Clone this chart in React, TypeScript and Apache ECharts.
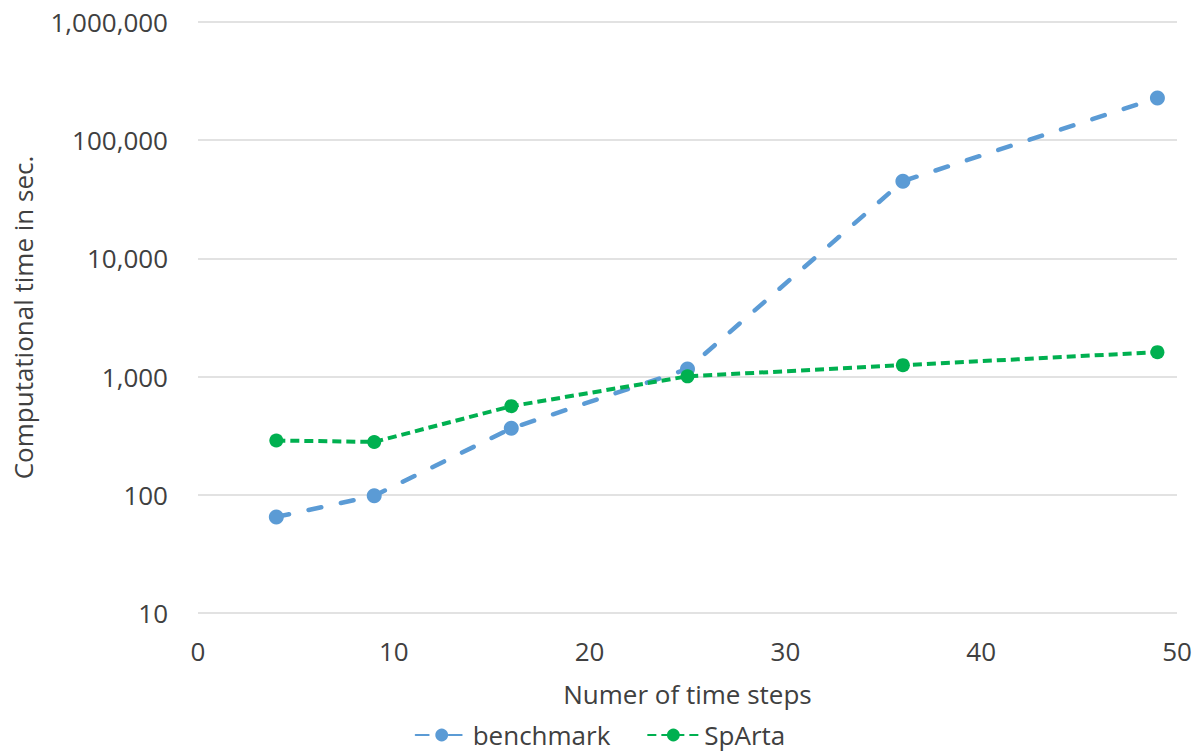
import React, { useEffect, useRef } from "react";
import * as echarts from "echarts";

const timeSteps = [4, 9, 16, 25, 36, 49];
const benchmark = [65, 98, 365, 1160, 45000, 228000];
const sparta = [288, 280, 562, 1005, 1250, 1610];
const seriesNames = ["benchmark", "SpArta"];
const xTitle = "Numer of time steps";
const yTitle = "Computational time in sec.";

const FONT = "'Open Sans', 'Liberation Sans', sans-serif";
const TXT = "#404040";
const FS = 26;

export default function App() {
  const ref = useRef<HTMLDivElement>(null);
  useEffect(() => {
    if (!ref.current) return;
    const chart = echarts.init(ref.current, undefined, { renderer: "svg" });
    chart.setOption({
      animation: false,
      textStyle: { fontFamily: FONT },
      grid: { left: 198, right: 23, top: 22, bottom: 139 },
      legend: {
        bottom: 2,
        left: "center",
        itemWidth: 52,
        itemHeight: 16,
        itemGap: 36,
        padding: 0,
        textStyle: { fontSize: FS, color: TXT, fontFamily: FONT, lineHeight: 30 },
        data: seriesNames,
      },
      xAxis: {
        type: "value",
        min: 0,
        max: 50,
        interval: 10,
        name: xTitle,
        nameLocation: "middle",
        nameGap: 68,
        nameTextStyle: { fontSize: FS, color: TXT, fontFamily: FONT },
        axisLine: { show: false },
        axisTick: { show: false },
        splitLine: { show: false },
        axisLabel: { fontSize: FS, color: TXT, margin: 25, fontFamily: FONT },
      },
      yAxis: {
        type: "log",
        logBase: 10,
        min: 10,
        max: 1000000,
        name: yTitle,
        nameLocation: "middle",
        nameGap: 162,
        nameTextStyle: { fontSize: FS, color: TXT, fontFamily: FONT },
        axisLine: { show: false },
        axisTick: { show: false },
        splitLine: { show: true, lineStyle: { color: "#d9d9d9", width: 1.5 } },
        axisLabel: {
          fontSize: FS,
          color: TXT,
          margin: 30,
          fontFamily: FONT,
          formatter: (v: number) => Math.round(v).toLocaleString("en-US"),
        },
      },
      series: [
        {
          name: seriesNames[0],
          type: "line",
          data: timeSteps.map((x, i) => [x, benchmark[i]]),
          symbol: "circle",
          symbolSize: 15,
          itemStyle: { color: "#5B9BD5" },
          lineStyle: { color: "#5B9BD5", width: 4.5, type: [13, 20], cap: "round" },
        },
        {
          name: seriesNames[1],
          type: "line",
          data: timeSteps.map((x, i) => [x, sparta[i]]),
          symbol: "circle",
          symbolSize: 14,
          itemStyle: { color: "#00B050" },
          lineStyle: { color: "#00B050", width: 4, type: [9, 5] },
        },
      ],
    });
    return () => chart.dispose();
  }, []);
  return <div ref={ref} style={{ width: 1200, height: 752, position: "absolute", left: 0, top: 0 }} />;
}
